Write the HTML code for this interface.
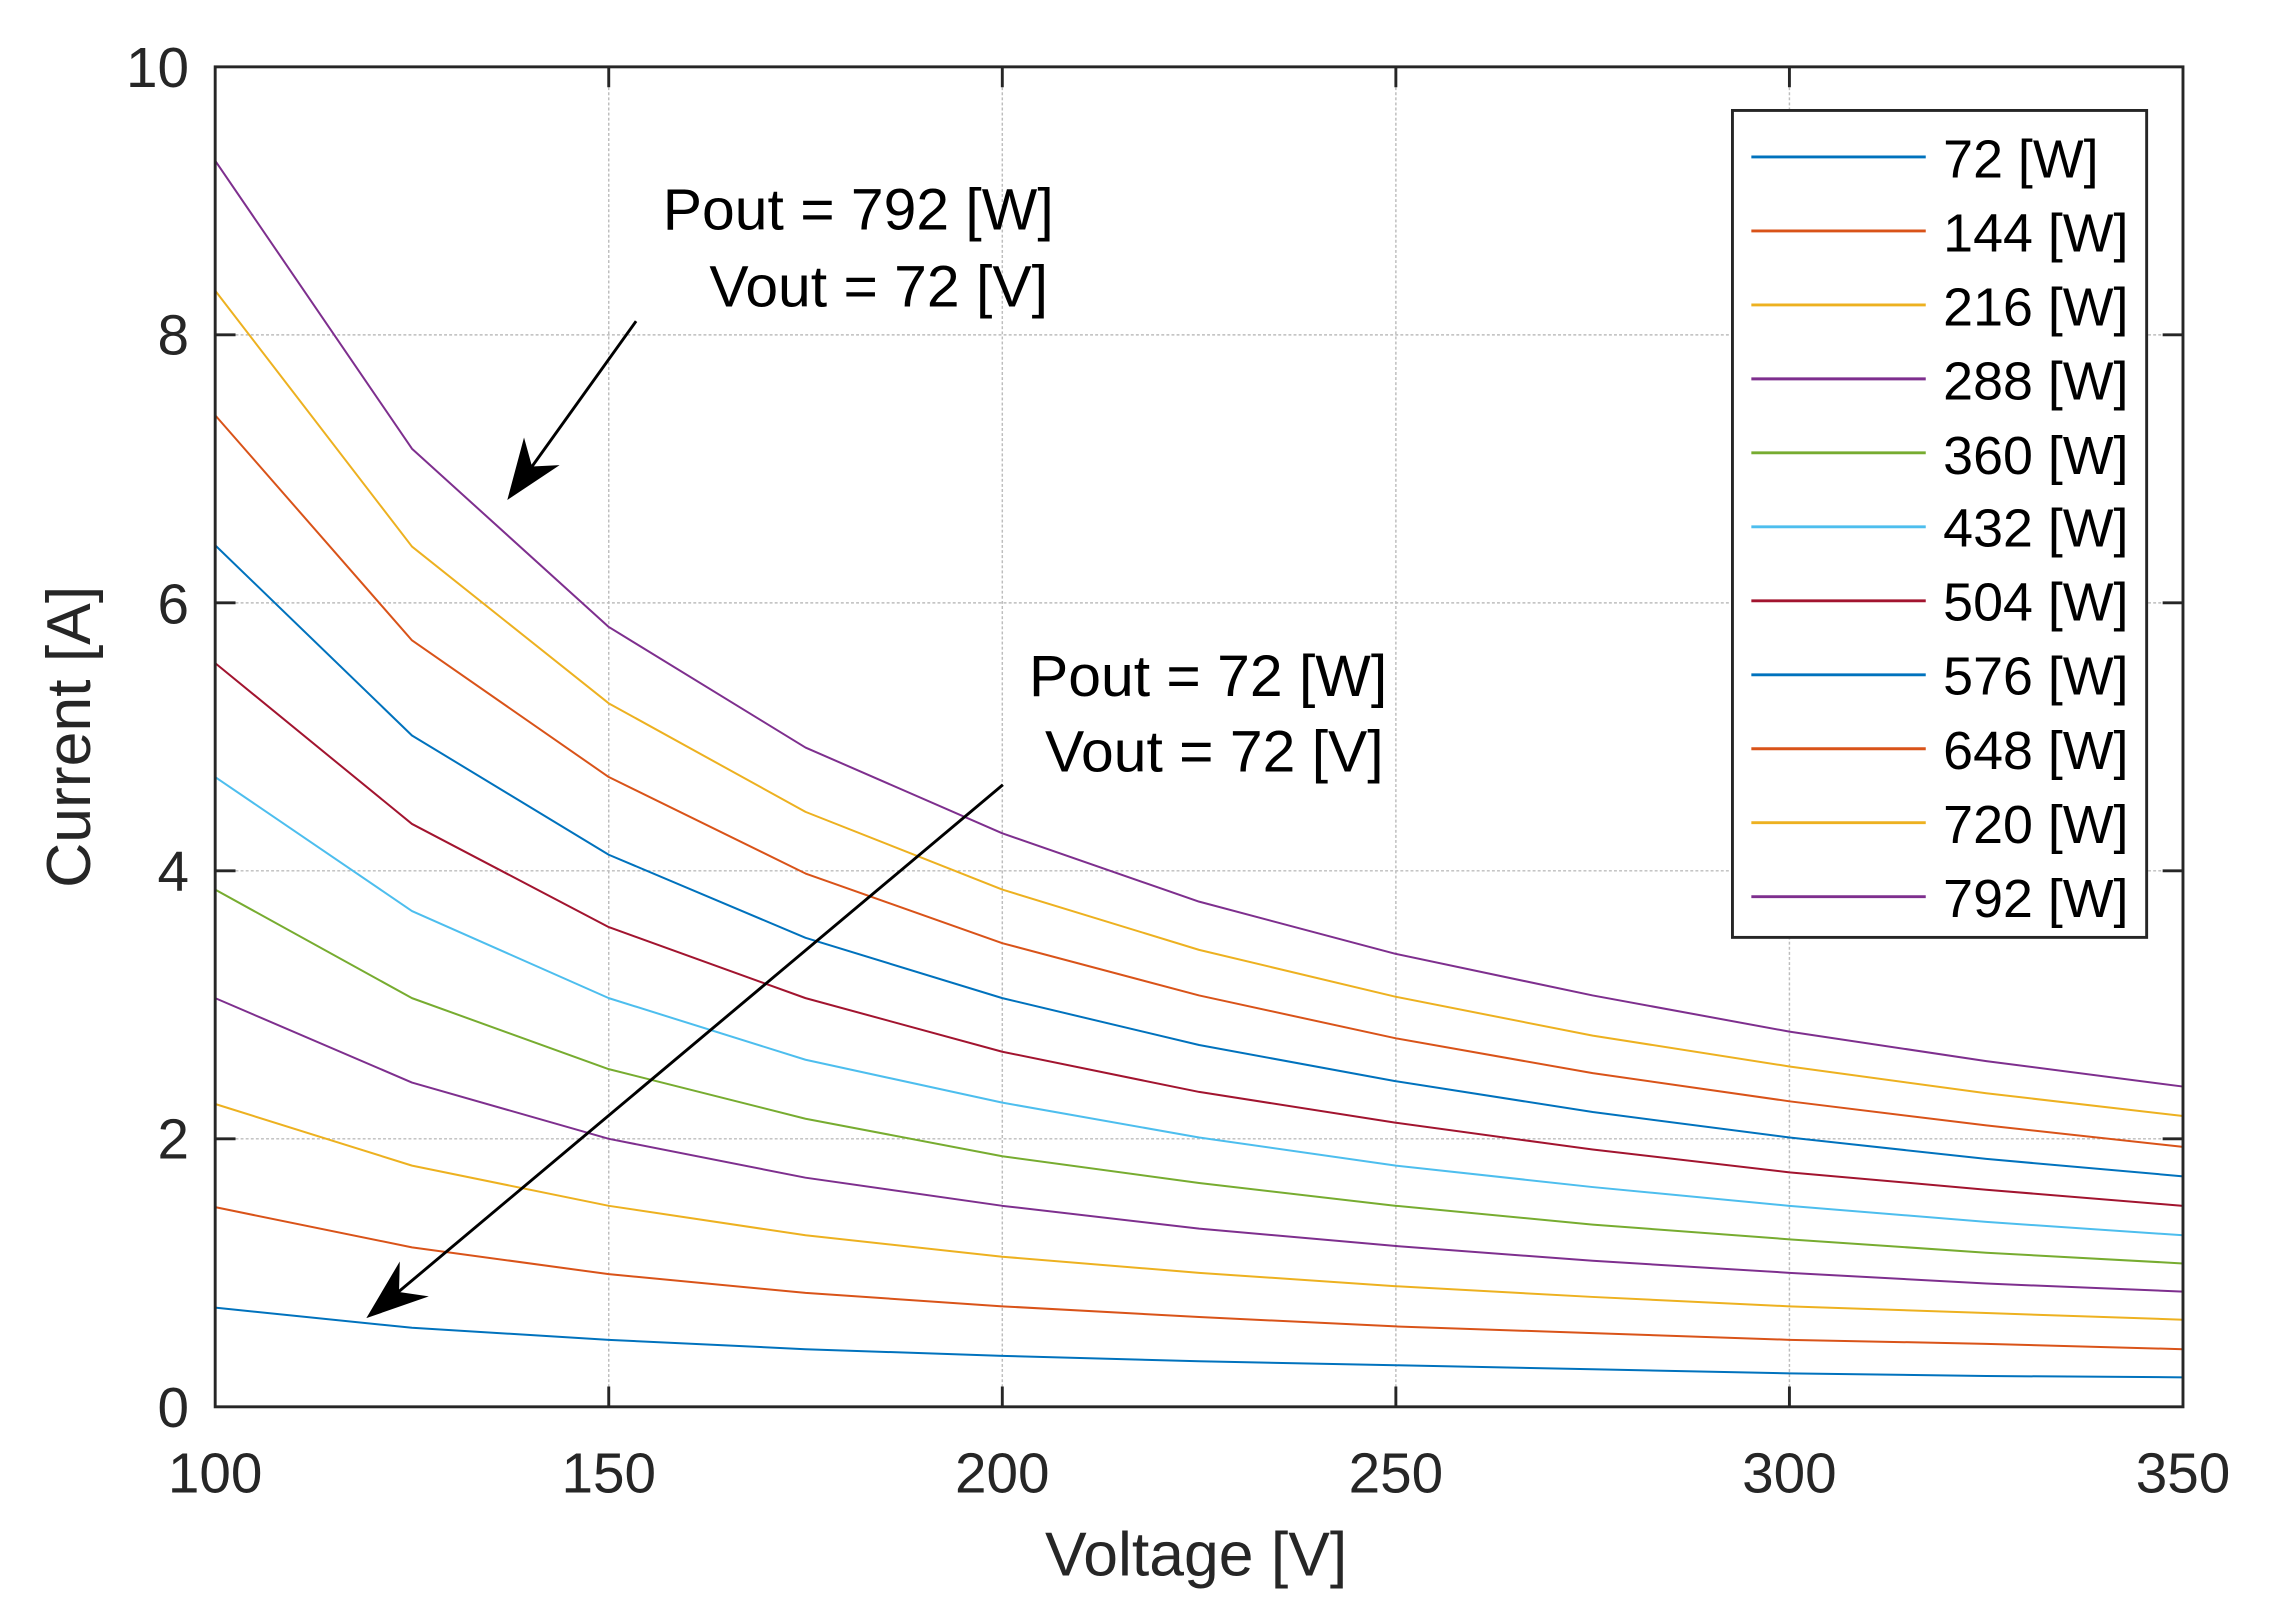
<!DOCTYPE html>
<html><head><meta charset="utf-8"><style>html,body{margin:0;padding:0;background:#fff}svg{display:block}</style></head>
<body>
<svg width="2279" height="1619" viewBox="0 0 1568 1114" xmlns="http://www.w3.org/2000/svg" font-family="Liberation Sans, Arial, sans-serif">
<rect width="1568" height="1114" fill="#fff"/>
<g stroke="#bdbdbd" stroke-width="1" stroke-dasharray="2,1.5">
<line x1="418.8" y1="46" x2="418.8" y2="968"/><line x1="689.6" y1="46" x2="689.6" y2="968"/><line x1="960.4" y1="46" x2="960.4" y2="968"/><line x1="1231.2" y1="46" x2="1231.2" y2="968"/>
<line x1="148" y1="783.6" x2="1502" y2="783.6"/><line x1="148" y1="599.2" x2="1502" y2="599.2"/><line x1="148" y1="414.8" x2="1502" y2="414.8"/><line x1="148" y1="230.4" x2="1502" y2="230.4"/>
</g>
<g transform="translate(148,968) scale(5.416,-92.2)" fill="none" stroke-width="2" stroke-linejoin="round">
<polyline vector-effect="non-scaling-stroke" stroke="#0072BD" points="0,0.74 25,0.59 50,0.50 75,0.43 100,0.38 125,0.34 150,0.31 175,0.28 200,0.25 225,0.23 250,0.22"/>
<polyline vector-effect="non-scaling-stroke" stroke="#D95319" points="0,1.49 25,1.19 50,0.99 75,0.85 100,0.75 125,0.67 150,0.60 175,0.55 200,0.50 225,0.47 250,0.43"/>
<polyline vector-effect="non-scaling-stroke" stroke="#EDB120" points="0,2.26 25,1.80 50,1.50 75,1.28 100,1.12 125,1.00 150,0.90 175,0.82 200,0.75 225,0.70 250,0.65"/>
<polyline vector-effect="non-scaling-stroke" stroke="#7E2F8E" points="0,3.05 25,2.42 50,2.00 75,1.71 100,1.50 125,1.33 150,1.20 175,1.09 200,1.00 225,0.92 250,0.86"/>
<polyline vector-effect="non-scaling-stroke" stroke="#77AC30" points="0,3.86 25,3.05 50,2.52 75,2.15 100,1.87 125,1.67 150,1.50 175,1.36 200,1.25 225,1.15 250,1.07"/>
<polyline vector-effect="non-scaling-stroke" stroke="#4DBEEE" points="0,4.70 25,3.70 50,3.05 75,2.59 100,2.27 125,2.01 150,1.80 175,1.64 200,1.50 225,1.38 250,1.28"/>
<polyline vector-effect="non-scaling-stroke" stroke="#A2142F" points="0,5.55 25,4.35 50,3.58 75,3.05 100,2.65 125,2.35 150,2.12 175,1.92 200,1.75 225,1.62 250,1.50"/>
<polyline vector-effect="non-scaling-stroke" stroke="#0072BD" points="0,6.43 25,5.01 50,4.12 75,3.50 100,3.05 125,2.70 150,2.43 175,2.20 200,2.01 225,1.85 250,1.72"/>
<polyline vector-effect="non-scaling-stroke" stroke="#D95319" points="0,7.40 25,5.72 50,4.70 75,3.98 100,3.46 125,3.07 150,2.75 175,2.49 200,2.28 225,2.10 250,1.94"/>
<polyline vector-effect="non-scaling-stroke" stroke="#EDB120" points="0,8.33 25,6.42 50,5.25 75,4.44 100,3.86 125,3.41 150,3.06 175,2.77 200,2.54 225,2.34 250,2.17"/>
<polyline vector-effect="non-scaling-stroke" stroke="#7E2F8E" points="0,9.30 25,7.15 50,5.82 75,4.92 100,4.28 125,3.77 150,3.38 175,3.07 200,2.80 225,2.58 250,2.39"/>
</g>
<g stroke="#262626" stroke-width="2" fill="none">
<rect x="148" y="46" width="1354" height="922"/>
<path d="M418.8,968v-14M689.6,968v-14M960.4,968v-14M1231.2,968v-14M418.8,46v14M689.6,46v14M960.4,46v14M1231.2,46v14M148,783.6h14M148,599.2h14M148,414.8h14M148,230.4h14M1502,783.6h-14M1502,599.2h-14M1502,414.8h-14M1502,230.4h-14"/>
</g>
<g fill="#262626" font-size="39" text-anchor="middle">
<text x="148" y="1027">100</text><text x="418.8" y="1027">150</text><text x="689.6" y="1027">200</text><text x="960.4" y="1027">250</text><text x="1231.2" y="1027">300</text><text x="1502" y="1027">350</text>
</g>
<g fill="#262626" font-size="39" text-anchor="end">
<text x="130" y="982">0</text><text x="130" y="797">2</text><text x="130" y="613">4</text><text x="130" y="429">6</text><text x="130" y="244">8</text><text x="130" y="60">10</text>
</g>
<text x="823" y="1084" font-size="43" fill="#262626" text-anchor="middle">Voltage [V]</text>
<text transform="translate(62,507) rotate(-90)" font-size="43" fill="#262626" text-anchor="middle">Current [A]</text>
<g font-size="40.5" fill="#000">
<text x="456" y="158">Pout = 792 [W]</text><text x="488" y="211">Vout = 72 [V]</text>
<text x="708" y="479">Pout = 72 [W]</text><text x="719" y="531">Vout = 72 [V]</text>
</g>
<g stroke="#000" stroke-width="2">
<line x1="437.6" y1="221" x2="366" y2="321"/>
<line x1="690" y1="540" x2="274" y2="889"/>
</g>
<polygon points="349,344 360.5,301 366,321 385,320" fill="#000"/>
<polygon points="252,907 275,868 274.5,889 295,892" fill="#000"/>
<rect x="1192" y="76" width="285" height="569" fill="#fff" stroke="#262626" stroke-width="2"/>
<g stroke-width="2">
<line x1="1205" x2="1325" y1="108" y2="108" stroke="#0072BD"/>
<line x1="1205" x2="1325" y1="158.9" y2="158.9" stroke="#D95319"/>
<line x1="1205" x2="1325" y1="209.8" y2="209.8" stroke="#EDB120"/>
<line x1="1205" x2="1325" y1="260.7" y2="260.7" stroke="#7E2F8E"/>
<line x1="1205" x2="1325" y1="311.6" y2="311.6" stroke="#77AC30"/>
<line x1="1205" x2="1325" y1="362.5" y2="362.5" stroke="#4DBEEE"/>
<line x1="1205" x2="1325" y1="413.4" y2="413.4" stroke="#A2142F"/>
<line x1="1205" x2="1325" y1="464.3" y2="464.3" stroke="#0072BD"/>
<line x1="1205" x2="1325" y1="515.2" y2="515.2" stroke="#D95319"/>
<line x1="1205" x2="1325" y1="566.1" y2="566.1" stroke="#EDB120"/>
<line x1="1205" x2="1325" y1="617" y2="617" stroke="#7E2F8E"/>
</g>
<g font-size="37" fill="#000">
<text x="1337" y="122">72 [W]</text>
<text x="1337" y="173">144 [W]</text>
<text x="1337" y="224">216 [W]</text>
<text x="1337" y="275">288 [W]</text>
<text x="1337" y="326">360 [W]</text>
<text x="1337" y="376">432 [W]</text>
<text x="1337" y="427">504 [W]</text>
<text x="1337" y="478">576 [W]</text>
<text x="1337" y="529">648 [W]</text>
<text x="1337" y="580">720 [W]</text>
<text x="1337" y="631">792 [W]</text>
</g>
</svg>
</body></html>
